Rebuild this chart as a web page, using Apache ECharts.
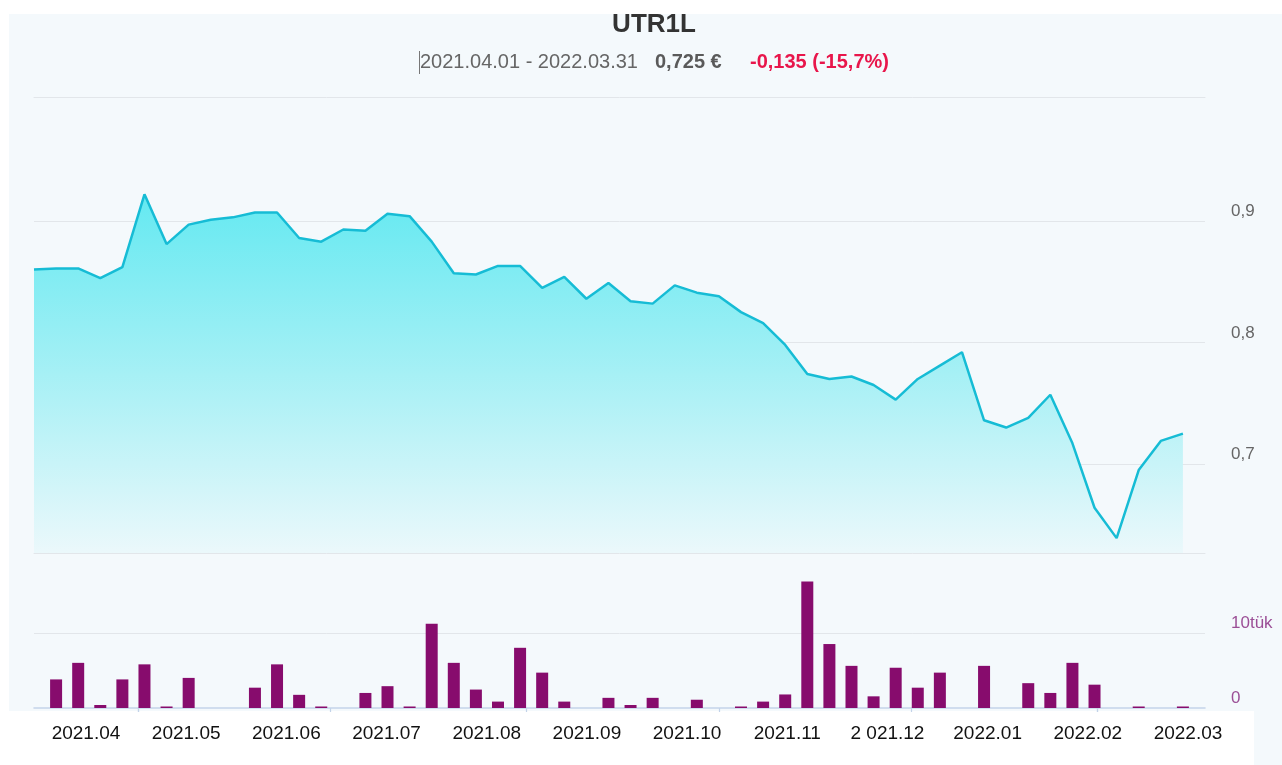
<!DOCTYPE html>
<html>
<head>
<meta charset="utf-8">
<title>UTR1L</title>
<script src="https://cdn.jsdelivr.net/npm/echarts@6/dist/echarts.min.js"></script>
<style>
  html, body { margin: 0; padding: 0; background: #fff; }
  #chart { width: 1282px; height: 765px; }
</style>
</head>
<body>
<div id="chart"></div>
<script>
// savaitės (pirmadieniai)
var weeks = [
  '2021-03-29', '2021-04-05', '2021-04-12', '2021-04-19', '2021-04-26',
  '2021-05-03', '2021-05-10', '2021-05-17', '2021-05-24', '2021-05-31',
  '2021-06-07', '2021-06-14', '2021-06-21', '2021-06-28',
  '2021-07-05', '2021-07-12', '2021-07-19', '2021-07-26',
  '2021-08-02', '2021-08-09', '2021-08-16', '2021-08-23', '2021-08-30',
  '2021-09-06', '2021-09-13', '2021-09-20', '2021-09-27',
  '2021-10-04', '2021-10-11', '2021-10-18', '2021-10-25',
  '2021-11-01', '2021-11-08', '2021-11-15', '2021-11-22', '2021-11-29',
  '2021-12-06', '2021-12-13', '2021-12-20', '2021-12-27',
  '2022-01-03', '2022-01-10', '2022-01-17', '2022-01-24', '2022-01-31',
  '2022-02-07', '2022-02-14', '2022-02-21', '2022-02-28',
  '2022-03-07', '2022-03-14', '2022-03-21', '2022-03-28'
];
var lastWeek = '2022-04-04'; // tuščia savaitė ašies pabaigai
// kaina, EUR
var prices = [
  0.860, 0.861, 0.861, 0.853, 0.862, 0.922, 0.881, 0.897, 0.901, 0.903,
  0.907, 0.907, 0.886, 0.883, 0.893, 0.892, 0.906, 0.904, 0.883, 0.857,
  0.856, 0.863, 0.863, 0.845, 0.854, 0.836, 0.849, 0.834, 0.832, 0.847,
  0.841, 0.838, 0.825, 0.816, 0.798, 0.774, 0.770, 0.772, 0.765, 0.753,
  0.770, 0.781, 0.792, 0.736, 0.730, 0.738, 0.757, 0.717, 0.664, 0.639,
  0.695, 0.719, 0.725
];
// apyvarta, vnt.
var volumes = [
  0, 3800, 6000, 400, 3800, 5800, 200, 4000, 0, 0,
  2700, 5800, 1750, 200, 0, 2000, 2900, 200, 11200, 6000,
  2450, 850, 8000, 4700, 850, 0, 1350, 400, 1350, 0,
  1100, 0, 200, 850, 1800, 16800, 8500, 5600, 1550, 5350,
  2700, 4700, 0, 5600, 0, 3300, 2000, 6000, 3100, 0,
  200, 0, 200
];
var monthLabels = ['2021.04', '2021.05', '2021.06', '2021.07', '2021.08', '2021.09',
  '2021.10', '2021.11', '2 021.12', '2022.01', '2022.02', '2022.03'];
var tickDates = ['2021-05-01', '2021-07-01', '2021-09-01', '2021-11-01', '2022-01-01', '2022-03-01'];
var priceTicks = [0.7, 0.8, 0.9];
var priceTickLabels = ['0,7', '0,8', '0,9'];
var volumeTicks = [0, 10000];
var volumeTickLabels = ['0', '10tük'];

var font = '"Liberation Sans", Arial, sans-serif';
var gridColor = '#e2e6ea';
var axisBlue = '#c3d3e9';
var none = 'rgba(0,0,0,0)';

function toTime(s) {
  var p = s.split('-');
  return new Date(+p[0], +p[1] - 1, +p[2]).getTime();
}
function tickLabel(values, labels) {
  return function (v) {
    for (var i = 0; i < values.length; i++) {
      if (Math.abs(v - values[i]) < 1e-6) return labels[i];
    }
    return '';
  };
}

var tMin = toTime(weeks[0]);
var tMax = toTime(lastWeek);

var myChart = echarts.init(document.getElementById('chart'));
myChart.setOption({
  backgroundColor: '#ffffff',
  animation: false,
  textStyle: { fontFamily: font },
  graphic: [
    { type: 'rect', z: -100, silent: true, shape: { x: 9, y: 14, width: 1273, height: 751 }, style: { fill: '#f4f9fc' } },
    { type: 'rect', z: -99, silent: true, shape: { x: 0, y: 711, width: 1254, height: 54 }, style: { fill: '#ffffff' } },
    { type: 'text', x: 654, y: 25, style: { text: 'UTR1L', font: 'bold 26px ' + font, fill: '#333', align: 'center', verticalAlign: 'middle' } },
    { type: 'text', x: 420, y: 62, style: { text: '2021.04.01 - 2022.03.31', font: '20px ' + font, fill: '#666', align: 'left', verticalAlign: 'middle' } },
    { type: 'text', x: 655, y: 62, style: { text: '0,725 €', font: 'bold 20px ' + font, fill: '#5a5a5a', align: 'left', verticalAlign: 'middle' } },
    { type: 'text', x: 750, y: 62, style: { text: '-0,135 (-15,7%)', font: 'bold 20px ' + font, fill: '#e8164b', align: 'left', verticalAlign: 'middle' } },
    { type: 'line', silent: true, shape: { x1: 419.5, y1: 51, x2: 419.5, y2: 74 }, style: { stroke: '#777', lineWidth: 1 } }
  ],
  grid: [
    { left: 34, right: 77, top: 97, height: 456 },       // kaina
    { left: 34, right: 77, top: 99.5, height: 486 },     // kainos skalė
    { left: 34, right: 77, top: 557.5, height: 150.5 },  // apyvarta
    { left: 86, right: 94, top: 700, height: 8 },        // mėnesiai
    { left: 34, right: 77, top: 557.5, height: 150.5 }   // laiko ašies linija
  ],
  xAxis: [
    { gridIndex: 0, type: 'time', min: tMin, max: tMax, position: 'bottom',
      axisLine: { lineStyle: { color: gridColor } }, axisTick: { show: false }, axisLabel: { show: false }, splitLine: { show: false } },
    { gridIndex: 0, type: 'time', min: tMin, max: tMax, position: 'top',
      axisLine: { lineStyle: { color: gridColor } }, axisTick: { show: false }, axisLabel: { show: false }, splitLine: { show: false } },
    { gridIndex: 1, type: 'value', show: false },
    { gridIndex: 2, type: 'category', data: weeks.concat([lastWeek]), boundaryGap: false, show: false },
    { gridIndex: 3, type: 'category', data: monthLabels, boundaryGap: false,
      axisLine: { show: false }, axisTick: { show: false },
      axisLabel: { interval: 0, color: '#111', fontSize: 19, margin: 16 } },
    { gridIndex: 4, type: 'time', min: tMin, max: tMax,
      axisLine: { lineStyle: { color: axisBlue, width: 1.5 } },
      axisTick: { show: true, length: 4, customValues: tickDates.map(toTime), lineStyle: { color: axisBlue, width: 1.2 } },
      axisLabel: { show: false }, splitLine: { show: false } }
  ],
  yAxis: [
    { gridIndex: 0, type: 'value', min: 0.62675, max: 1.00206, show: false },
    { gridIndex: 1, type: 'value', min: 0.6, max: 1.0, interval: 0.1, position: 'right',
      axisLine: { show: false }, axisTick: { show: false },
      splitLine: { lineStyle: { color: [none, gridColor, gridColor, gridColor, none] } },
      axisLabel: { margin: 26, align: 'left', verticalAlign: 'bottom', padding: [0, 0, 1, 0],
        color: '#666', fontSize: 17, formatter: tickLabel(priceTicks, priceTickLabels) } },
    { gridIndex: 2, type: 'value', min: 0, max: 20000, interval: 10000, position: 'right',
      axisLine: { show: false }, axisTick: { show: false },
      splitLine: { lineStyle: { color: [none, gridColor, none] } },
      axisLabel: { margin: 26, align: 'left', verticalAlign: 'bottom', padding: [0, 0, 1, 0],
        color: '#9b4f96', fontSize: 17, formatter: tickLabel(volumeTicks, volumeTickLabels) } },
    { gridIndex: 3, type: 'value', show: false },
    { gridIndex: 4, type: 'value', show: false }
  ],
  series: [
    {
      type: 'line',
      xAxisIndex: 0,
      yAxisIndex: 0,
      data: weeks.map(function (d, i) { return [toTime(d), prices[i]]; }),
      symbol: 'none',
      lineStyle: { color: '#16bcd5', width: 2.5 },
      areaStyle: {
        opacity: 1,
        color: new echarts.graphic.LinearGradient(0, 0, 0, 1, [
          { offset: 0, color: '#64e9f1' },
          { offset: 0.5, color: '#a6f0f5' },
          { offset: 1, color: '#ebf8fb' }
        ])
      }
    },
    {
      type: 'bar',
      xAxisIndex: 3,
      yAxisIndex: 2,
      data: volumes,
      barWidth: 12,
      itemStyle: { color: '#870c6d' }
    }
  ]
});
</script>
</body>
</html>
